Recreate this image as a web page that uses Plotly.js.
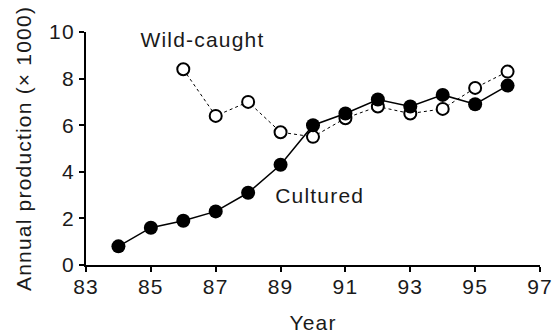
<!DOCTYPE html>
<html><head><meta charset="utf-8">
<script src="https://cdn.plot.ly/plotly-3.0.1.min.js"></script>
<style>html,body{margin:0;padding:0;background:#fff;}
#chart svg text{letter-spacing:1.2px;}</style>
</head><body>
<div id="chart" style="width:553px;height:334px;"></div>
<script>
const culturedYears = [84,85,86,87,88,89,90,91,92,93,94,95,96];
const culturedValues = [0.8,1.6,1.9,2.3,3.1,4.3,6.0,6.5,7.1,6.8,7.3,6.9,7.7];
const wildYears = [86,87,88,89,90,91,92,93,94,95,96];
const wildValues = [8.4,6.4,7.0,5.7,5.5,6.3,6.8,6.5,6.7,7.6,8.3];
const xTicks = [83,85,87,89,91,93,95,97];
const yTicks = [0,2,4,6,8,10];

const font = "'Liberation Sans', Arial, sans-serif";
const traces = [
  {x: wildYears, y: wildValues, mode: 'lines+markers', name: 'Wild-caught',
   line: {color: '#000', width: 1, dash: 'dot'},
   marker: {size: 12, color: '#fff', line: {color: '#000', width: 2}}},
  {x: culturedYears, y: culturedValues, mode: 'lines+markers', name: 'Cultured',
   line: {color: '#000', width: 1.5},
   marker: {size: 14, color: '#000'}}
];
const layout = {
  width: 553, height: 334,
  margin: {l: 86, r: 13, t: 32, b: 69},
  showlegend: false,
  paper_bgcolor: '#fff', plot_bgcolor: '#fff',
  font: {family: font, size: 21, color: '#1a1a1a'},
  xaxis: {range: [83, 97], tickvals: xTicks, ticktext: xTicks.map(String),
    showline: true, linecolor: '#000', linewidth: 2, ticks: 'outside', ticklen: 5, tickwidth: 2, tickcolor: '#000',
    showgrid: false, zeroline: false, automargin: false, ticklabelstandoff: -3,
    tickfont: {size: 21},
    title: {text: 'Year', font: {size: 21}, standoff: 18}},
  yaxis: {range: [0, 10], tickvals: yTicks, ticktext: yTicks.map(String),
    showline: true, linecolor: '#000', linewidth: 2, ticks: 'outside', ticklen: 5, tickwidth: 2, tickcolor: '#000',
    showgrid: false, zeroline: false, automargin: false,
    tickfont: {size: 21},
    title: {text: 'Annual production (× 1000)', font: {size: 21}, standoff: 14}},
  annotations: [
    {x: 86.6, y: 9.66, xref: 'x', yref: 'y', text: 'Wild-caught', showarrow: false, font: {size: 21, color: '#1a1a1a'}},
    {x: 90.2, y: 3.0, xref: 'x', yref: 'y', text: 'Cultured', showarrow: false, font: {size: 21, color: '#1a1a1a'}}
  ]
};
Plotly.newPlot('chart', traces, layout, {displayModeBar: false, staticPlot: true});
</script>
</body></html>
